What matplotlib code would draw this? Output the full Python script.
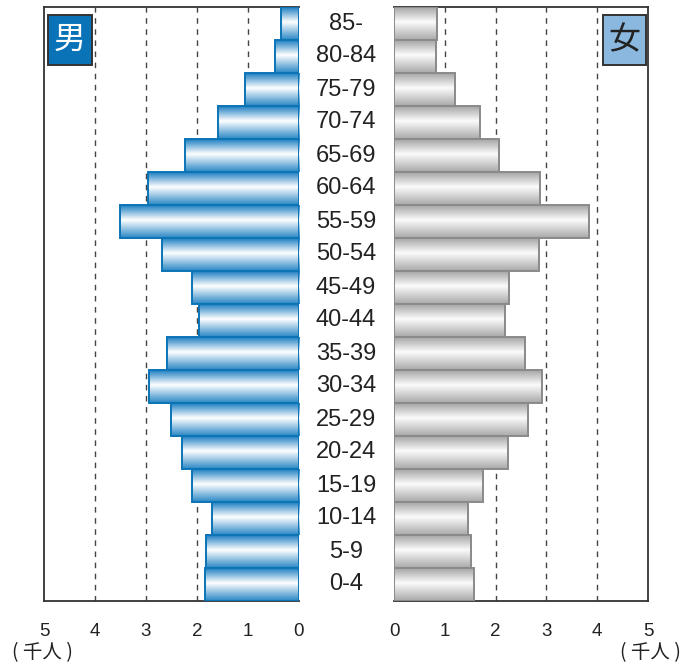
import numpy as np
import matplotlib
matplotlib.use("Agg")
import matplotlib.pyplot as plt
from matplotlib.colors import LinearSegmentedColormap
from matplotlib.patches import Rectangle
from matplotlib.transforms import blended_transform_factory

plt.rcParams['font.family'] = ['Liberation Sans', 'DejaVu Sans']

# age groups from youngest to oldest, population in thousands
age_groups = ["0-4", "5-9", "10-14", "15-19", "20-24", "25-29", "30-34",
              "35-39", "40-44", "45-49", "50-54", "55-59", "60-64",
              "65-69", "70-74", "75-79", "80-84", "85-"]
male = [1.84, 1.82, 1.71, 2.10, 2.29, 2.51, 2.94, 2.59, 1.96, 2.10,
        2.69, 3.51, 2.96, 2.24, 1.59, 1.06, 0.47, 0.35]
female = [1.57, 1.52, 1.46, 1.75, 2.24, 2.64, 2.91, 2.58, 2.19, 2.26,
          2.85, 3.84, 2.87, 2.07, 1.69, 1.20, 0.83, 0.85]
x_ticks = [0, 1, 2, 3, 4, 5]

blue_cmap = LinearSegmentedColormap.from_list(
    "blue_bar", [(0.0, "#1f80c2"), (0.45, "#ffffff"), (1.0, "#2b88c6")])
grey_cmap = LinearSegmentedColormap.from_list(
    "grey_bar", [(0.0, "#a6a6a6"), (0.45, "#fbfbfb"), (1.0, "#a9a9a9")])
grad = np.linspace(0, 1, 64).reshape(-1, 1)
cjk = ['Noto Sans CJK JP', 'DejaVu Sans']


def gradient_bars(ax, values, cmap, edge):
    for i, v in enumerate(values):
        y0, y1 = i - 0.5, i + 0.5
        ax.imshow(grad, cmap=cmap, extent=[0, v, y0, y1], aspect='auto',
                  origin='upper', zorder=3, interpolation='bilinear')
        ax.add_patch(Rectangle((0, y0), v, 1.0, fill=False, edgecolor=edge,
                               linewidth=1.4, zorder=4))


fig = plt.figure(figsize=(6.88, 6.66), dpi=100)
ax_m = fig.add_axes([44 / 688, 65 / 666, 255 / 688, 594 / 666])
ax_f = fig.add_axes([394 / 688, 65 / 666, 254 / 688, 594 / 666])

gradient_bars(ax_m, male, blue_cmap, "#0b74b5")
gradient_bars(ax_f, female, grey_cmap, "#8a8a8a")

ax_m.set_xlim(5, 0)
ax_f.set_xlim(0, 5)
for ax in (ax_m, ax_f):
    ax.set_ylim(-0.5, len(age_groups) - 0.5)
    ax.set_yticks([])
    ax.set_xticks(x_ticks)
    ax.set_xticklabels([str(t) for t in x_ticks], fontsize=13.5, color="#222222")
    ax.tick_params(axis='x', length=0, pad=16)
    for t in x_ticks[1:-1]:
        ax.axvline(t, color="#444444", linestyle=(0, (4, 4)), linewidth=1.0,
                   zorder=1)
    for s in ax.spines.values():
        s.set_color("#333333")
        s.set_linewidth(1.3)
ax_m.spines['right'].set_visible(False)
ax_f.spines['left'].set_visible(False)

# age labels centred between the two panels
trans = blended_transform_factory(fig.transFigure, ax_m.transData)
for i, lab in enumerate(age_groups):
    ax_m.text(346 / 688, i, lab, transform=trans, ha='center', va='center',
              fontsize=17, color="#222222", clip_on=False)

# sex label boxes
ax_m.add_patch(Rectangle((0.016, 0.902), 0.172, 0.085, transform=ax_m.transAxes,
                         facecolor="#0a72b6", edgecolor="#333333",
                         linewidth=1.4, zorder=5))
ax_m.text(0.102, 0.944, "男", transform=ax_m.transAxes, ha='center',
          va='center', fontsize=23, color="white", family=cjk, zorder=6)
ax_f.add_patch(Rectangle((0.823, 0.902), 0.169, 0.085, transform=ax_f.transAxes,
                         facecolor="#8ab8df", edgecolor="#333333",
                         linewidth=1.4, zorder=5))
ax_f.text(0.907, 0.944, "女", transform=ax_f.transAxes, ha='center',
          va='center', fontsize=23, color="#222222", family=cjk, zorder=6)

# units
for xc in (42, 650):
    fig.text(xc / 688, 1 - 653 / 666, "( 千人 )", ha='center', va='center',
             fontsize=14, color="#222222", family=cjk)

fig.savefig("out.png", dpi=100)
